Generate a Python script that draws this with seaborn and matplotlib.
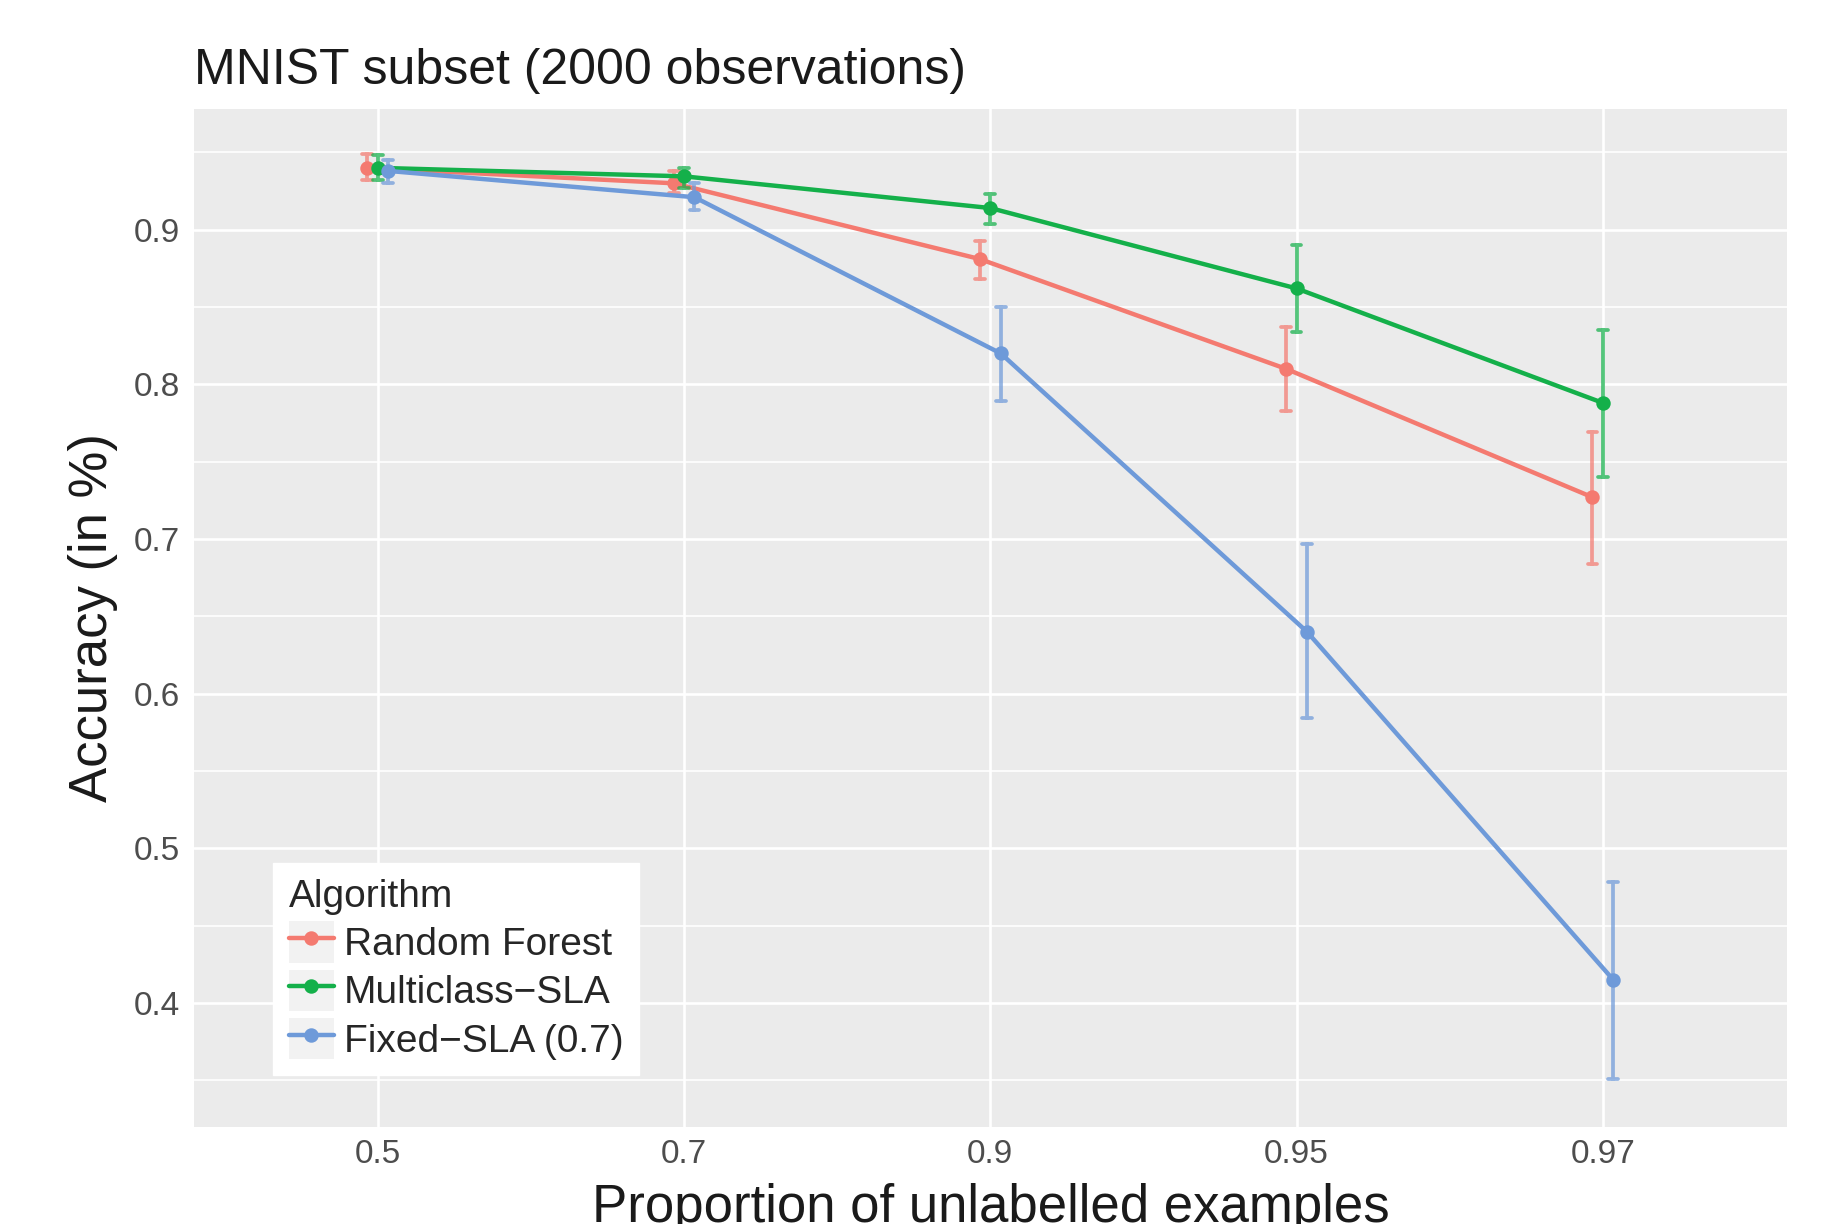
import numpy as np
import pandas as pd
import matplotlib
matplotlib.use("Agg")
import matplotlib.pyplot as plt
import seaborn as sns
from matplotlib.patches import Rectangle
from matplotlib.legend_handler import HandlerLine2D

# proportions of unlabelled examples (categorical x axis)
props = ["0.5", "0.7", "0.9", "0.95", "0.97"]
algos = ["Random Forest", "Multiclass\u2212SLA", "Fixed\u2212SLA (0.7)"]
colors = ["#F47A70", "#14B04A", "#6E9AD9"]

# accuracy mean and error-bar bounds
rf_mean = [0.940, 0.930, 0.881, 0.810, 0.727]
rf_lo = [0.932, 0.924, 0.868, 0.783, 0.684]
rf_hi = [0.949, 0.938, 0.893, 0.837, 0.769]

ml_mean = [0.940, 0.9345, 0.914, 0.862, 0.788]
ml_lo = [0.932, 0.927, 0.904, 0.834, 0.740]
ml_hi = [0.948, 0.940, 0.923, 0.890, 0.835]

fx_mean = [0.938, 0.921, 0.820, 0.640, 0.415]
fx_lo = [0.930, 0.9125, 0.789, 0.584, 0.351]
fx_hi = [0.945, 0.930, 0.850, 0.697, 0.478]

series = {
    algos[0]: (rf_lo, rf_mean, rf_hi),
    algos[1]: (ml_lo, ml_mean, ml_hi),
    algos[2]: (fx_lo, fx_mean, fx_hi),
}

# long table: lo / mean / hi per group -> median gives the point, min/max the bar
rows = []
for algo, (lo, mid, hi) in series.items():
    for i, p in enumerate(props):
        for v in (lo[i], mid[i], hi[i]):
            rows.append({"prop": p, "acc": v, "Algorithm": algo})
df = pd.DataFrame(rows)


class KeyHandler(HandlerLine2D):
    # line key drawn on a light grey square, ggplot style
    def create_artists(self, legend, orig_handle, xdescent, ydescent,
                       width, height, fontsize, trans):
        bg = Rectangle((-xdescent, -ydescent), width, height,
                       facecolor="#F2F2F2", edgecolor="none", transform=trans)
        arts = super().create_artists(legend, orig_handle, xdescent, ydescent,
                                      width, height, fontsize, trans)
        return [bg] + list(arts)


sns.set_theme(style="darkgrid")
plt.rcParams["font.family"] = ["Liberation Sans", "DejaVu Sans"]

fig = plt.figure(figsize=(18.27, 12.24), dpi=100)
ax = fig.add_axes([0.1062, 0.0795, 0.9779 - 0.1062, 0.9109 - 0.0795])
ax.set_facecolor("#EBEBEB")

sns.pointplot(
    data=df, x="prop", y="acc", hue="Algorithm",
    order=props, hue_order=algos, palette=colors,
    estimator="median", errorbar=lambda v: (v.min(), v.max()),
    dodge=0.068, capsize=0.032, markers="o", linestyles="-",
    markersize=8, linewidth=3.2,
    err_kws={"linewidth": 2.7, "alpha": 0.72},
    ax=ax,
)

ax.set_xlim(-0.6, 4.6)
ax.set_ylim(0.320, 0.978)
ax.set_yticks([0.4, 0.5, 0.6, 0.7, 0.8, 0.9])
ax.set_yticklabels(["0.4", "0.5", "0.6", "0.7", "0.8", "0.9"])
ax.set_yticks([0.35, 0.45, 0.55, 0.65, 0.75, 0.85, 0.95], minor=True)

ax.grid(which="major", color="white", linewidth=1.9)
ax.grid(which="minor", axis="y", color="white", linewidth=1.2)
ax.set_axisbelow(True)
for s in ax.spines.values():
    s.set_visible(False)

ax.tick_params(axis="both", which="major", length=5, width=1.1, color="#333333",
               labelsize=24, labelcolor="#4D4D4D")
ax.tick_params(axis="x", pad=4)
ax.tick_params(axis="y", pad=5)
ax.tick_params(which="minor", length=0)

ax.set_title("MNIST subset (2000 observations)", loc="left", fontsize=36,
             color="#1A1A1A", pad=18)
ax.set_xlabel("Proportion of unlabelled examples", fontsize=38, color="#1A1A1A",
              va="baseline")
ax.xaxis.set_label_coords(0.5, -0.0937)
ax.set_ylabel("Accuracy (in %)", fontsize=38, color="#1A1A1A")
ax.yaxis.set_label_coords(-0.048, 0.5)

handles, labels = ax.get_legend_handles_labels()
ax.legend(
    handles, labels, handler_map={h: KeyHandler() for h in handles},
    loc="lower left", bbox_to_anchor=(0.0498, 0.0507), borderaxespad=0,
    title="Algorithm", fontsize=28, title_fontsize=28, frameon=True,
    fancybox=False, framealpha=1, facecolor="white", edgecolor="white",
    handlelength=1.16, handleheight=1.25, handletextpad=0.25, borderpad=0.4,
    labelspacing=0.17, alignment="left",
)

fig.savefig("out.png", dpi=100)
